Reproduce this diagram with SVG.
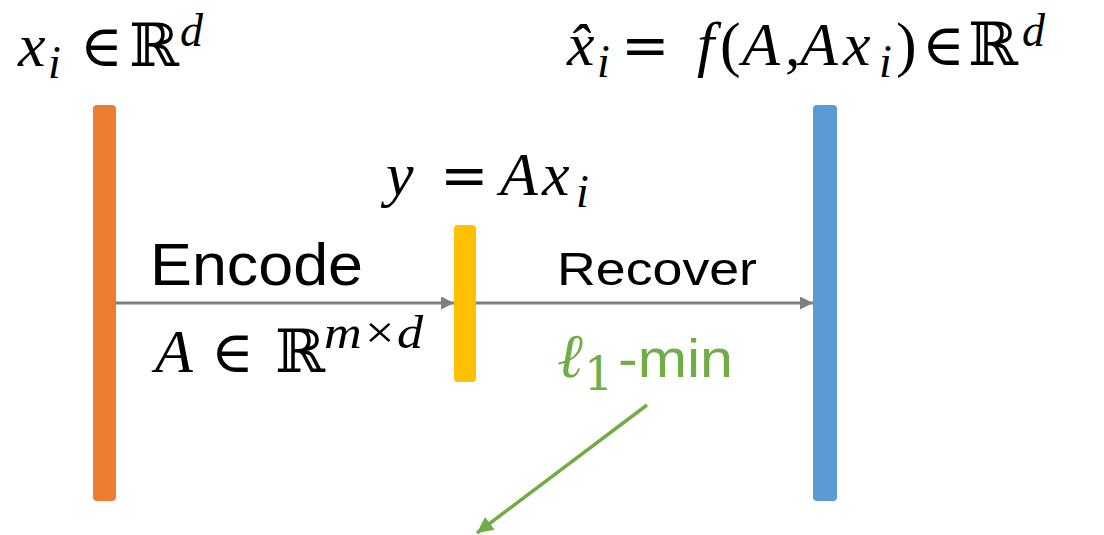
<svg xmlns="http://www.w3.org/2000/svg" width="1104" height="535" viewBox="0 0 1104 535">
<style>
.m{font-family:"Liberation Serif","DejaVu Serif",serif;font-style:italic;font-size:62px;fill:#000}
.u{font-family:"DejaVu Serif","Liberation Serif",serif;font-style:normal;font-size:58px}
.p{font-family:"Liberation Serif","DejaVu Serif",serif;font-style:normal}
.r{font-family:"DejaVu Serif","Liberation Serif",serif;font-style:normal;font-size:60px}
.s{font-size:46px}
.sans{font-family:"Liberation Sans",Arial,sans-serif;fill:#000}
.g{fill:#70ad47}
.ar{stroke:#7f7f7f;stroke-width:3;fill:none}
</style>
<defs>
<marker id="ha" viewBox="0 0 10 10" refX="10" refY="5" markerWidth="16" markerHeight="13" markerUnits="userSpaceOnUse" orient="auto"><path d="M0,0L10,5L0,10z" fill="#7f7f7f"/></marker>
<marker id="hg" viewBox="0 0 10 10" refX="10" refY="5" markerWidth="20" markerHeight="16" markerUnits="userSpaceOnUse" orient="auto"><path d="M0,0L10,5L0,10z" fill="#70ad47"/></marker>
</defs>
<g id="node-input">
<rect x="93" y="105" width="23" height="396" rx="4" fill="#ed7d31"/>
<text class="m" y="66"><tspan x="18">x</tspan><tspan x="48" y="78" class="s">i</tspan><tspan x="80" y="66" class="u">∈</tspan><tspan x="129" class="r">ℝ</tspan><tspan x="180" y="46" class="s">d</tspan></text>
</g>
<g id="node-measure">
<rect x="454" y="225" width="22" height="157" rx="4" fill="#ffc000"/>
<text class="m" y="195"><tspan x="386">y</tspan><tspan x="440" class="u">=</tspan><tspan x="500">A</tspan><tspan x="542">x</tspan><tspan x="576" y="207" class="s">i</tspan></text>
</g>
<g id="node-output">
<rect x="813" y="105" width="24" height="396" rx="4" fill="#5b9bd5"/>
<text class="m" y="65"><tspan x="567">x̂</tspan><tspan x="597" y="77" class="s">i</tspan><tspan x="621" y="65" class="u">=</tspan><tspan x="697">f</tspan><tspan x="720" class="p">(</tspan><tspan x="742">A</tspan><tspan x="785" class="p">,</tspan><tspan x="800">A</tspan><tspan x="843">x</tspan><tspan x="879" y="77" class="s">i</tspan><tspan x="896" y="65" class="p">)</tspan><tspan x="922" class="u">∈</tspan><tspan x="968" class="r">ℝ</tspan><tspan x="1022" y="46" class="s">d</tspan></text>
</g>
<g id="connectors">
<line class="ar" x1="116" y1="303" x2="454" y2="303" marker-end="url(#ha)"/>
<line class="ar" x1="476" y1="303" x2="813" y2="303" marker-end="url(#ha)"/>
<line x1="647" y1="405" x2="477" y2="533" stroke="#70ad47" stroke-width="3.5" marker-end="url(#hg)"/>
</g>
<g id="labels">
<text class="sans" x="150" y="285" font-size="60" textLength="213" lengthAdjust="spacingAndGlyphs">Encode</text>
<text class="sans" x="557" y="285" font-size="47" textLength="200" lengthAdjust="spacingAndGlyphs">Recover</text>
<text class="m" y="372"><tspan x="155">A</tspan><tspan x="211" class="u">∈</tspan><tspan x="275" class="r">ℝ</tspan><tspan x="324" y="348" class="s" textLength="99" lengthAdjust="spacingAndGlyphs">m×d</tspan></text>
<text class="m g" y="377"><tspan x="557">ℓ</tspan><tspan x="584" y="390" class="u" style="font-size:46px">1</tspan><tspan x="618" y="377" style="font-family:'Liberation Sans',Arial,sans-serif;font-style:normal;font-size:54px" textLength="115" lengthAdjust="spacingAndGlyphs">-min</tspan></text>
</g>
</svg>
